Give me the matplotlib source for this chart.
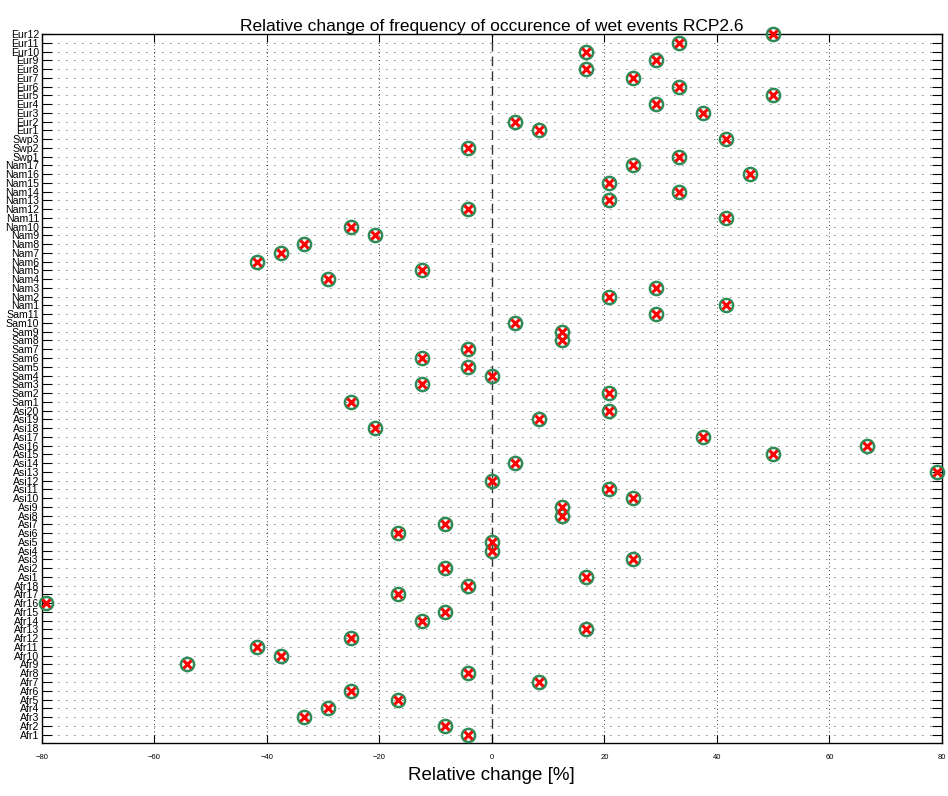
import numpy as np
import matplotlib
matplotlib.use("Agg")
import matplotlib.pyplot as plt

plt.rcParams['font.family'] = ['Liberation Sans', 'DejaVu Sans']

# region names, bottom to top
regions = (["Afr%d" % i for i in range(1, 19)] +
           ["Asi%d" % i for i in range(1, 21)] +
           ["Sam%d" % i for i in range(1, 12)] +
           ["Nam%d" % i for i in range(1, 18)] +
           ["Swp%d" % i for i in range(1, 4)] +
           ["Eur%d" % i for i in range(1, 13)])

# relative change in %, same order as regions
afr = [-4.17, -8.33, -33.33, -29.17, -16.67, -25, 8.33, -4.17, -54.17,
       -37.5, -41.67, -25, 16.67, -12.5, -8.33, -79.17, -16.67, -4.17]
asi = [16.67, -8.33, 25, 0, 0, -16.67, -8.33, 12.5, 12.5, 25,
       20.83, 0, 79.17, 4.17, 50, 66.67, 37.5, -20.83, 8.33, 20.83]
sam = [-25, 20.83, -12.5, 0, -4.17, -12.5, -4.17, 12.5, 12.5, 4.17, 29.17]
nam = [41.67, 20.83, 29.17, -29.17, -12.5, -41.67, -37.5, -33.33, -20.83,
       -25, 41.67, -4.17, 20.83, 33.33, 20.83, 45.83, 25]
swp = [33.33, -4.17, 41.67]
eur = [8.33, 4.17, 37.5, 29.17, 50, 33.33, 25, 16.67, 29.17, 16.67,
       33.33, 50]

change = np.array(afr + asi + sam + nam + swp + eur)
pos = np.arange(1, len(regions) + 1)


def main():
    fig = plt.figure(figsize=(9.48, 7.96), dpi=100)
    ax = fig.add_axes([0.044, 0.0662, 0.9497, 0.8911])

    # grid: sparse dots along rows, finer dots on the x ticks
    for y in pos:
        ax.axhline(y, color='black', lw=0.6, ls=(0, (1, 8.6)), zorder=0)
    for x in [-60, -40, -20, 20, 40, 60]:
        ax.axvline(x, color='black', lw=0.6, ls=(0, (1, 3.5)), zorder=0)
    ax.axvline(0, color='#333333', lw=1.0, ls=(0, (7, 3.6)), zorder=1)

    ax.plot(change, pos, 'o', ms=9.5, mfc='none', mec='#2e8b57', mew=1.8,
            clip_on=False, zorder=3)
    ax.plot(change, pos, 'x', ms=6, mec='red', mew=2.2,
            clip_on=False, zorder=4)

    ax.set_xlim(-80, 80)
    ax.set_ylim(0, len(regions))
    ax.set_xticks(np.arange(-80, 81, 20))
    ax.set_xticklabels([str(v).replace('-', '\u2212') for v in range(-80, 81, 20)])
    ax.set_yticks(pos)
    ax.set_yticklabels(regions, fontsize=7.6)
    ax.tick_params(axis='x', labelsize=5.5, direction='in', length=6,
                   top=True, pad=8)
    ax.tick_params(axis='y', direction='in', length=7, right=True,
                   width=0.8, pad=2)
    for s in ax.spines.values():
        s.set_linewidth(1.0)

    ax.set_xlabel("Relative change [%]", fontsize=13.5, labelpad=4)
    ax.set_title("Relative change of frequency of occurence of wet events RCP2.6",
                 fontsize=12.5, pad=2)

    fig.savefig("out.png", dpi=100)


if __name__ == '__main__':
    main()
